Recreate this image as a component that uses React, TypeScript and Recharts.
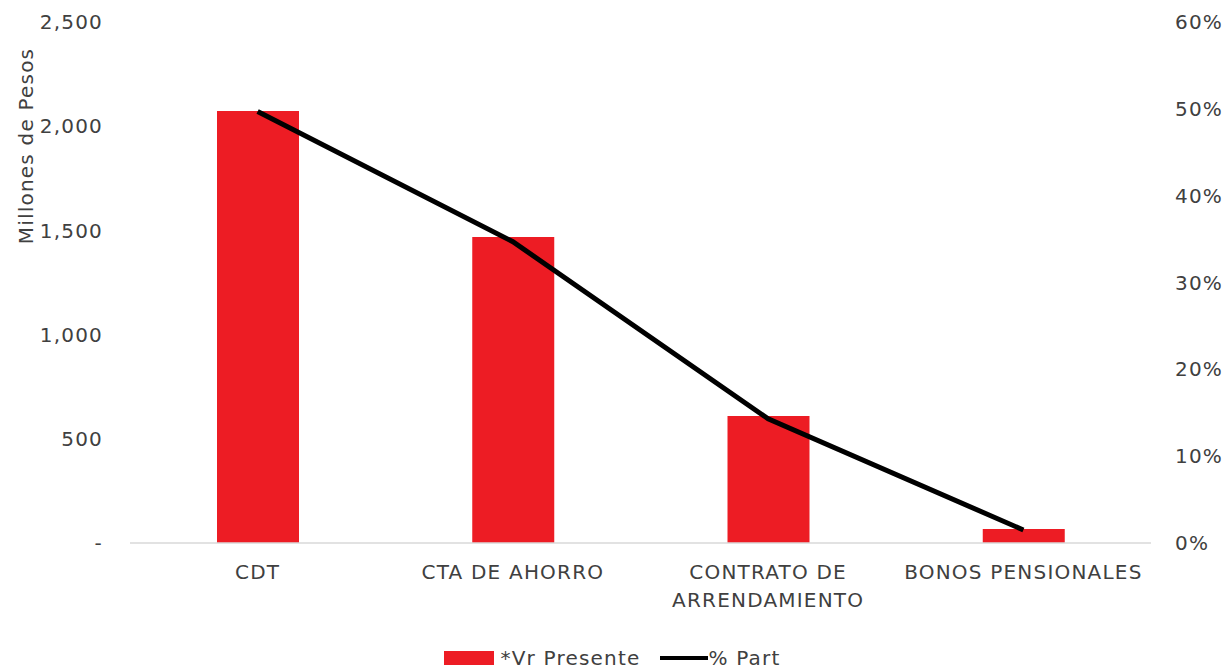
import React from 'react';
import { ComposedChart, Bar, Line, XAxis, YAxis, Legend, Label } from 'recharts';

const categories = ['CDT', 'CTA DE AHORRO', 'CONTRATO DE\nARRENDAMIENTO', 'BONOS PENSIONALES'];
const vrPresente = [2073, 1468, 609, 67];
const pctPart = [49.7, 34.7, 14.3, 1.5];
const leftTicks = [0, 500, 1000, 1500, 2000, 2500];
const rightTicks = [0, 10, 20, 30, 40, 50, 60];

const data = categories.map((c, i) => ({ name: c, vr: vrPresente[i], pct: pctPart[i] }));

const FONT = '"DejaVu Sans", sans-serif';
const TXT = '#404040';
const LS = 1.2;

const CatTick = ({ x, y, payload }: any) => {
  const lines = String(payload.value).split('\n');
  return (
    <text x={x} y={y} textAnchor="middle" fill={TXT} fontFamily={FONT} fontSize={20} letterSpacing={LS}>
      {lines.map((l, i) => (
        <tspan key={i} x={x} dy={i === 0 ? 28 : 28}>{l}</tspan>
      ))}
    </text>
  );
};

const LegendContent = () => (
  <div style={{ display: 'flex', justifyContent: 'center', alignItems: 'center', fontFamily: FONT, fontSize: 20, letterSpacing: LS, color: TXT }}>
    <span style={{ display: 'inline-block', width: 50, height: 14, background: '#ED1C24', marginRight: 6 }} />
    <span style={{ marginRight: 20 }}>*Vr Presente</span>
    <span style={{ display: 'inline-block', width: 48, height: 4, background: '#000' }} />
    <span>% Part</span>
  </div>
);

const fmtLeft = (v: number) => (v === 0 ? '-' : v.toLocaleString('en-US'));

export default function App() {
  return (
    <div style={{ position: 'absolute', left: 0, top: 0, background: '#fff' }}>
      <ComposedChart width={1225} height={670} data={data} margin={{ top: 22, right: 0, bottom: 0, left: 0 }}>
        <XAxis
          dataKey="name"
          xAxisId={0}
          tick={<CatTick />}
          tickLine={false}
          axisLine={{ stroke: '#d9d9d9', strokeWidth: 1.5 }}
          height={103}
          interval={0}
        />
        <YAxis
          yAxisId="left"
          width={130}
          domain={[0, 2500]}
          ticks={leftTicks}
          tickFormatter={fmtLeft}
          tickLine={false}
          axisLine={false}
          tickSize={0}
          tickMargin={27}
          tick={{ fill: TXT, fontFamily: FONT, fontSize: 20, letterSpacing: LS }}
        >
          <Label
            content={() => (
              <text
                x={26}
                y={146}
                transform="rotate(-90, 26, 146)"
                textAnchor="middle"
                dominantBaseline="central"
                fill={TXT}
                fontFamily={FONT}
                fontSize={20}
                letterSpacing={LS}
              >
                Millones de Pesos
              </text>
            )}
          />
        </YAxis>
        <YAxis
          yAxisId="right"
          orientation="right"
          width={74}
          domain={[0, 60]}
          ticks={rightTicks}
          tickFormatter={(v: number) => `${v}%`}
          tickLine={false}
          axisLine={false}
          tickSize={0}
          tickMargin={24}
          tick={{ fill: TXT, fontFamily: FONT, fontSize: 20, letterSpacing: LS, textAnchor: 'start' }}
        />
        <Legend verticalAlign="bottom" content={<LegendContent />} wrapperStyle={{ bottom: 0 }} />
        <Bar yAxisId="left" dataKey="vr" name="*Vr Presente" fill="#ED1C24" barSize={82} isAnimationActive={false} />
        <Line
          yAxisId="right"
          dataKey="pct"
          name="% Part"
          stroke="#000"
          strokeWidth={5}
          dot={false}
          type="linear"
          isAnimationActive={false}
        />
      </ComposedChart>
    </div>
  );
}
